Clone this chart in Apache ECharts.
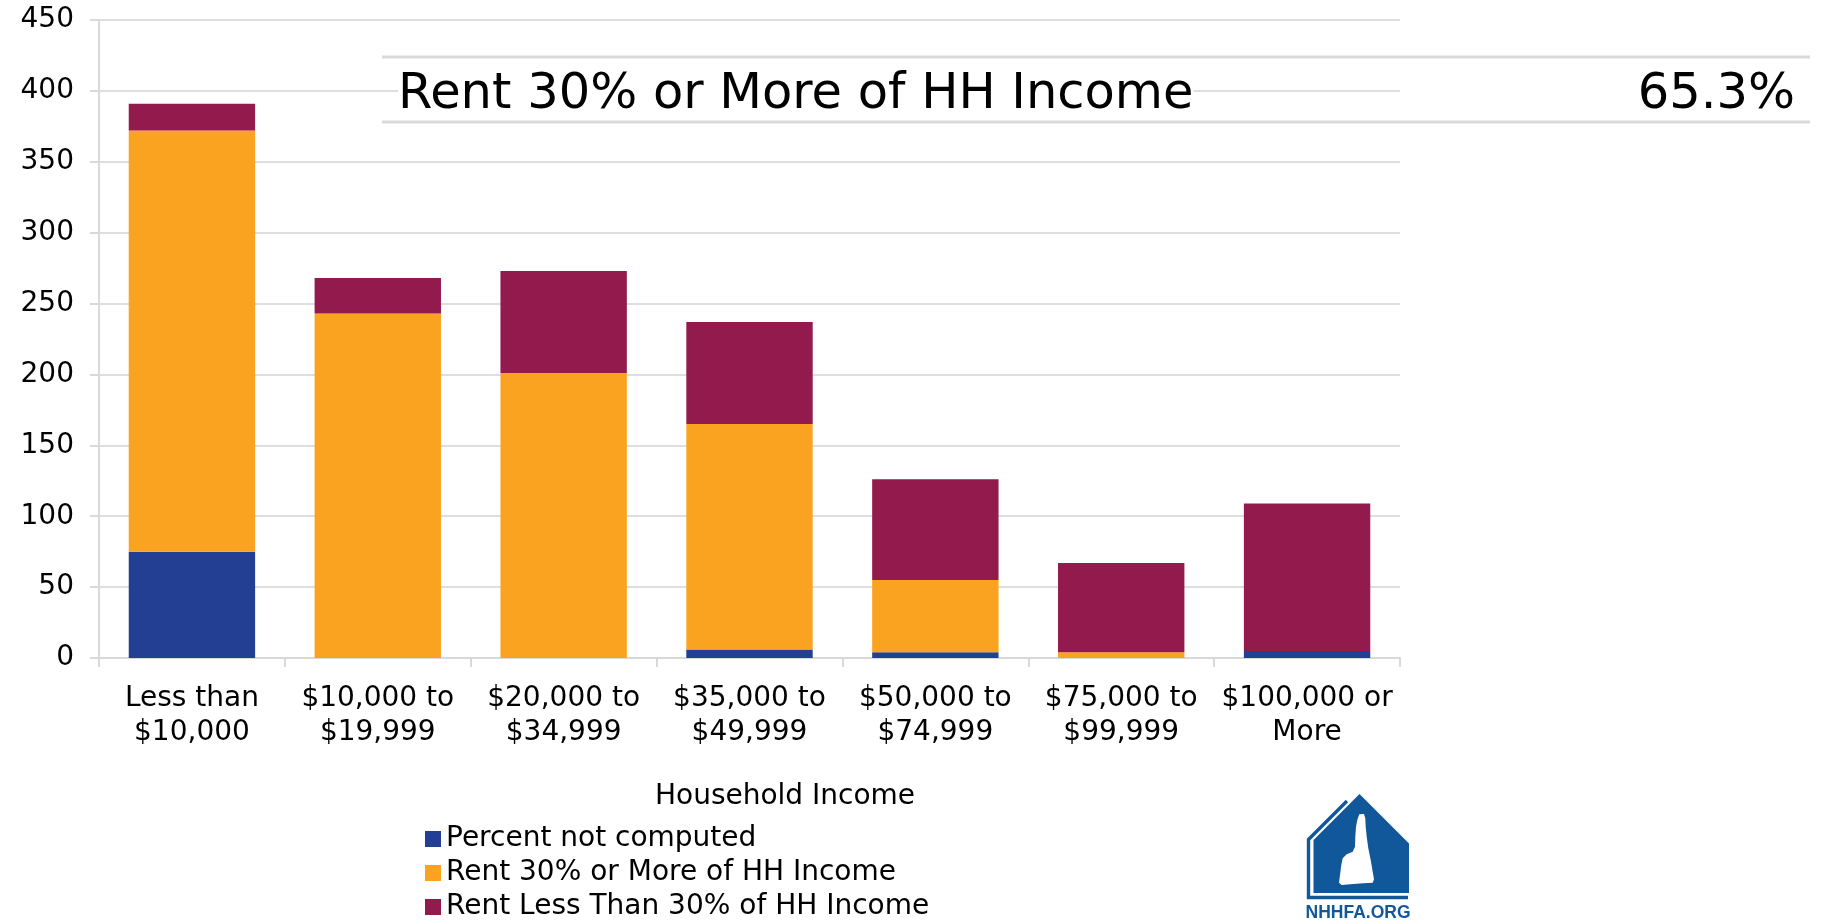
<!DOCTYPE html>
<html>
<head>
<meta charset="utf-8">
<script src="https://cdn.jsdelivr.net/npm/echarts@6/dist/echarts.min.js"></script>
<style>
html,body{margin:0;padding:0;background:#fff;}
#chart{width:1822px;height:923px;}
</style>
</head>
<body>
<div id="chart"></div>
<script>
var categories = ['Less than\n$10,000', '$10,000 to\n$19,999', '$20,000 to\n$34,999', '$35,000 to\n$49,999', '$50,000 to\n$74,999', '$75,000 to\n$99,999', '$100,000 or\nMore'];
var percentNotComputed = [75, 0, 0, 6, 4, 0, 5];
var rent30OrMore = [297, 243, 201, 159, 51, 4, 0];
var rentLessThan30 = [19, 25, 72, 72, 71, 63, 104];
var yTicks = {min: 0, max: 450, interval: 50};
var seriesNames = ['Percent not computed', 'Rent 30% or More of HH Income', 'Rent Less Than 30% of HH Income'];
var highlightLabel = 'Rent 30% or More of HH Income';
var highlightValue = '65.3%';
var xAxisTitle = 'Household Income';

var colors = ['#233f93', '#f9a320', '#921a4c'];
var FONT = 'DejaVu Sans';
var chart = echarts.init(document.getElementById('chart'), null, {renderer: 'canvas'});

function mkSeries(name, data, color) {
  return {
    name: name, type: 'bar', stack: 'total', data: data, barWidth: '68%',
    itemStyle: {color: color}, emphasis: {disabled: true}
  };
}

var logoBlue = '#11589b';
var option = {
  animation: false,
  backgroundColor: '#ffffff',
  title: [
    {text: highlightLabel, left: 398, top: 70, padding: 0, backgroundColor: '#ffffff',
     textStyle: {fontFamily: FONT, fontSize: 49.5, fontWeight: 'normal', color: '#000'}},
    {text: highlightValue, right: 27, top: 70, padding: 0, backgroundColor: '#ffffff',
     textStyle: {fontFamily: FONT, fontSize: 49.5, fontWeight: 'normal', color: '#000'}}
  ],
  legend: {
    orient: 'vertical', left: 420, top: 820, height: 110, itemGap: 6,
    itemWidth: 16, itemHeight: 16, icon: 'rect',
    data: seriesNames,
    textStyle: {fontFamily: FONT, fontSize: 28, color: '#000'}
  },
  grid: {left: 99, right: 422, top: 20, bottom: 265, containLabel: false},
  xAxis: {
    type: 'category', data: categories,
    axisLine: {show: true, lineStyle: {color: '#d9d9d9', width: 2}},
    axisTick: {show: true, length: 9, lineStyle: {color: '#d9d9d9', width: 2}},
    axisLabel: {interval: 0, margin: 24, fontFamily: FONT, fontSize: 28, color: '#000', lineHeight: 34}
  },
  yAxis: {
    type: 'value', min: yTicks.min, max: yTicks.max, interval: yTicks.interval,
    axisLine: {show: true, lineStyle: {color: '#d9d9d9', width: 2}},
    axisTick: {show: true, length: 9, lineStyle: {color: '#d9d9d9', width: 2}},
    splitLine: {show: true, lineStyle: {color: '#dedede', width: 2}},
    axisLabel: {margin: 25, fontFamily: FONT, fontSize: 28, color: '#000'}
  },
  series: [
    mkSeries(seriesNames[0], percentNotComputed, colors[0]),
    mkSeries(seriesNames[1], rent30OrMore, colors[1]),
    mkSeries(seriesNames[2], rentLessThan30, colors[2])
  ],
  graphic: [
    {type: 'line', z: 100, shape: {x1: 382, y1: 57, x2: 1810, y2: 57}, style: {stroke: '#d9d9d9', lineWidth: 3}},
    {type: 'line', z: 100, shape: {x1: 382, y1: 122, x2: 1810, y2: 122}, style: {stroke: '#d9d9d9', lineWidth: 3}},
    {type: 'text', z: 100, x: 785, y: 797, style: {text: xAxisTitle, textAlign: 'center', textVerticalAlign: 'middle', font: '28px "DejaVu Sans"', fill: '#000'}},
    // logo
    {type: 'polygon', z: 100, shape: {points: [[1359.5,794],[1409,843.5],[1409,893],[1313.5,893],[1313.5,840]]}, style: {fill: logoBlue}},
    {type: 'polyline', z: 100, shape: {points: [[1347,801],[1308.5,839.5],[1308.5,897.5],[1408,897.5]]}, style: {stroke: logoBlue, lineWidth: 3.4, fill: null}},
    {type: 'polygon', z: 101, shape: {points: [[1359.3,814.3],[1364,814],[1365.3,818.3],[1365.7,826.7],[1366.7,836.7],[1368.3,848.3],[1370.7,860],[1372.7,871.7],[1374,879.3],[1372.7,882.7],[1363.3,883.3],[1353.3,884],[1341.7,885],[1339,882.7],[1340,875],[1341.3,865],[1342.7,858.3],[1346.7,854.3],[1352.7,851.7],[1355,846.7],[1355.3,836.7],[1356,826.7],[1357.3,820]]}, style: {fill: '#ffffff'}},
    {type: 'text', z: 100, x: 1358, y: 913, style: {text: 'NHHFA.ORG', textAlign: 'center', textVerticalAlign: 'middle', font: 'bold 17.5px "Liberation Sans"', fill: logoBlue}}
  ]
};
chart.setOption(option);
</script>
</body>
</html>
